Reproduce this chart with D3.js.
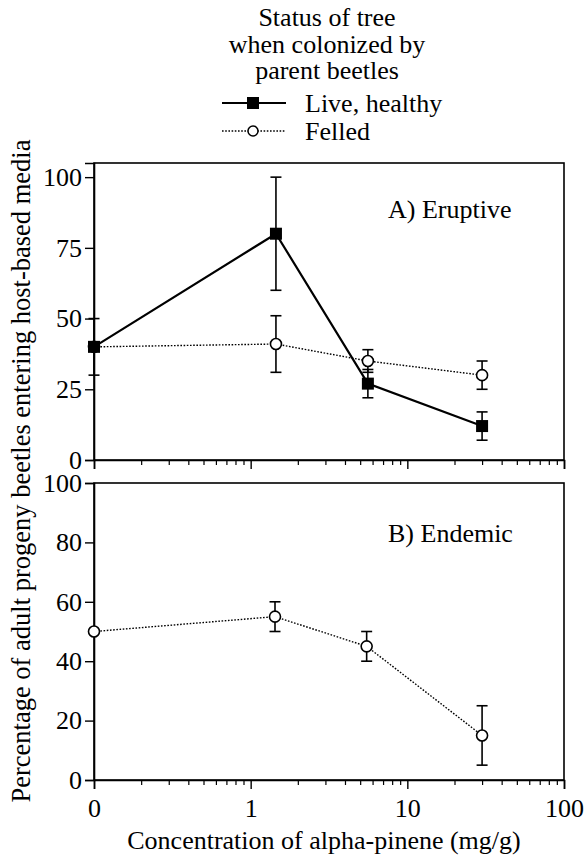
<!DOCTYPE html>
<html>
<head>
<meta charset="utf-8">
<script src="https://cdn.jsdelivr.net/npm/d3@7/dist/d3.min.js"></script>
<style>
  html, body { margin: 0; padding: 0; background: #fff; }
  svg { display: block; }
</style>
</head>
<body>
<svg id="chart" width="586" height="857"></svg>
<script>
// ---- data ----
const legendTitle = ["Status of tree", "when colonized by", "parent beetles"];
const seriesNames = ["Live, healthy", "Felled"];
const xTickValues = [0.1, 1, 10, 100];
const xTickLabels = ["0", "1", "10", "100"];
const yTicksA = [0, 25, 50, 75, 100];
const yTicksB = [0, 20, 40, 60, 80, 100];

const eruptiveX = [0.1, 1.45, 5.6, 30];
const eruptiveLive = [40, 80, 27, 12];
const eruptiveLiveErr = [10, 20, 5, 5];
const eruptiveFelled = [40, 41, 35, 30];
const eruptiveFelledErr = [0, 10, 4, 5];

const endemicX = [0.1, 1.43, 5.5, 30];
const endemicFelled = [50, 55, 45, 15];
const endemicFelledErr = [0, 5, 5, 10];

// ---- layout ----
const FONT = "Liberation Serif";
const svg = d3.select("#chart");
const left = 94, right = 564;
const x = d3.scaleLog().domain([0.1, 100]).range([left, right]);
const yA = d3.scaleLinear().domain([0, 105]).range([460, 163]);
const yB = d3.scaleLinear().domain([0, 100]).range([780, 483]);

const minorTicks = [];
[0.1, 1, 10].forEach(d => { for (let k = 2; k <= 9; k++) minorTicks.push(d * k); });

function styleText(sel, size) {
  return sel.attr("font-family", FONT).attr("font-size", size || 26).attr("fill", "#000");
}

function panel(y, yTicks, showXLabels, label, labelY) {
  const g = svg.append("g");
  g.append("rect")
    .attr("x", left).attr("y", y.range()[1])
    .attr("width", right - left).attr("height", y.range()[0] - y.range()[1])
    .attr("fill", "none").attr("stroke", "#000").attr("stroke-width", 1.6);
  const ya = g.append("g").attr("transform", `translate(${left},0)`)
    .call(d3.axisLeft(y).tickValues(yTicks).tickSize(9).tickPadding(3).tickFormat(d3.format("d")));
  ya.attr("font-family", FONT).attr("font-size", 26);
  ya.select(".domain").attr("stroke-width", 1.6);
  ya.selectAll(".tick line").attr("stroke-width", 1.4);
  styleText(ya.selectAll("text"));
  const xa = g.append("g").attr("transform", `translate(0,${y.range()[0]})`)
    .call(d3.axisBottom(x).tickValues(xTickValues).tickSize(9).tickPadding(10)
      .tickFormat((d, i) => showXLabels ? xTickLabels[i] : ""));
  xa.attr("font-family", FONT).attr("font-size", 26);
  xa.select(".domain").attr("stroke-width", 1.6);
  xa.selectAll(".tick line").attr("stroke-width", 1.4);
  styleText(xa.selectAll("text"));
  const xm = g.append("g").attr("transform", `translate(0,${y.range()[0]})`)
    .call(d3.axisBottom(x).tickValues(minorTicks).tickSize(5).tickFormat(""));
  xm.select(".domain").remove();
  xm.selectAll(".tick line").attr("stroke-width", 1.2);
  styleText(g.append("text").attr("x", 388).attr("y", labelY)).text(label);
  return g;
}

function series(g, y, xs, vals, errs, live) {
  const line = d3.line().x((d, i) => x(xs[i])).y(d => y(d));
  g.append("path").datum(vals).attr("d", line)
    .attr("fill", "none").attr("stroke", "#000")
    .attr("stroke-width", live ? 2.2 : 1.4)
    .attr("stroke-dasharray", live ? null : "1.6,1.6");
  const eb = g.append("g");
  vals.forEach((v, i) => {
    const e = errs[i];
    if (!e) return;
    const cx = x(xs[i]);
    eb.append("line").attr("x1", cx).attr("x2", cx).attr("y1", y(v - e)).attr("y2", y(v + e))
      .attr("stroke", "#000").attr("stroke-width", 1.6);
    [v - e, v + e].forEach(t => {
      eb.append("line").attr("x1", cx - 5.5).attr("x2", cx + 5.5).attr("y1", y(t)).attr("y2", y(t))
        .attr("stroke", "#000").attr("stroke-width", 1.6);
    });
  });
  vals.forEach((v, i) => {
    const cx = x(xs[i]), cy = y(v);
    if (live) {
      g.append("rect").attr("x", cx - 6).attr("y", cy - 6).attr("width", 12).attr("height", 12).attr("fill", "#000");
    } else {
      g.append("circle").attr("cx", cx).attr("cy", cy).attr("r", 5.5)
        .attr("fill", "#fff").attr("stroke", "#000").attr("stroke-width", 1.6);
    }
  });
}

const gA = panel(yA, yTicksA, false, "A) Eruptive", 218);
series(gA, yA, eruptiveX, eruptiveFelled, eruptiveFelledErr, false);
series(gA, yA, eruptiveX, eruptiveLive, eruptiveLiveErr, true);

const gB = panel(yB, yTicksB, true, "B) Endemic", 542);
series(gB, yB, endemicX, endemicFelled, endemicFelledErr, false);

styleText(svg.append("text").attr("x", 324).attr("y", 849).attr("text-anchor", "middle"))
  .text("Concentration of alpha-pinene (mg/g)");
styleText(svg.append("text").attr("transform", "translate(30,471) rotate(-90)").attr("text-anchor", "middle"), 26.5)
  .text("Percentage of adult progeny beetles entering host-based media");

const lg = svg.append("g");
legendTitle.forEach((t, i) => {
  styleText(lg.append("text").attr("x", 327).attr("y", 26 + i * 26.5).attr("text-anchor", "middle")).text(t);
});
const legY = [103, 131];
seriesNames.forEach((name, i) => {
  const live = i === 0;
  lg.append("line").attr("x1", 222).attr("x2", 286).attr("y1", legY[i]).attr("y2", legY[i])
    .attr("stroke", "#000").attr("stroke-width", live ? 2 : 1.4)
    .attr("stroke-dasharray", live ? null : "1.6,1.6");
  if (live) {
    lg.append("rect").attr("x", 253 - 6).attr("y", legY[i] - 6).attr("width", 12).attr("height", 12).attr("fill", "#000");
  } else {
    lg.append("circle").attr("cx", 253).attr("cy", legY[i]).attr("r", 5)
      .attr("fill", "#fff").attr("stroke", "#000").attr("stroke-width", 1.5);
  }
  styleText(lg.append("text").attr("x", 305).attr("y", legY[i] + 9)).text(name);
});
</script>
</body>
</html>
